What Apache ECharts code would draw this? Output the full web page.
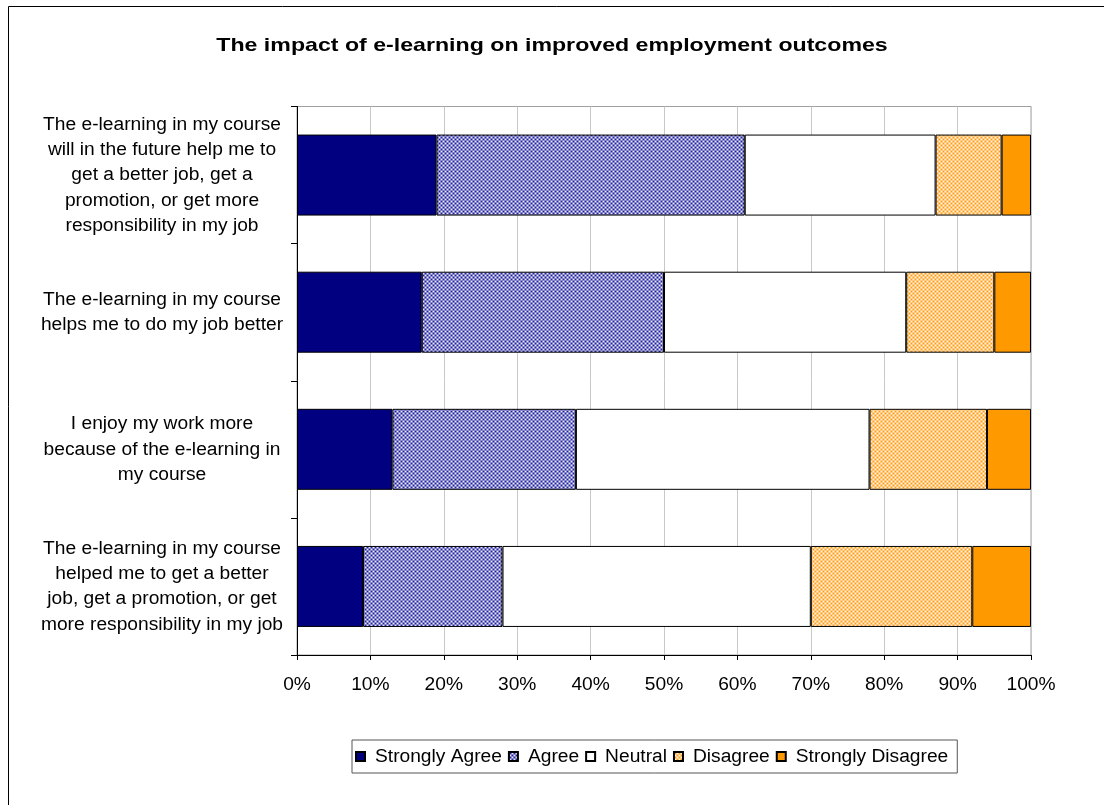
<!DOCTYPE html>
<html>
<head>
<meta charset="utf-8">
<script src="https://cdn.jsdelivr.net/npm/echarts@6/dist/echarts.min.js"></script>
<style>
  html, body { margin: 0; padding: 0; background: #fff; }
  #chart { width: 1104px; height: 805px; }
</style>
</head>
<body>
<div id="chart"></div>
<script>
// Survey statements (top to bottom)
const categories = [
  'The e-learning in my course\nwill in the future help me to\nget a better job, get a\npromotion, or get more\nresponsibility in my job',
  'The e-learning in my course\nhelps me to do my job better',
  'I enjoy my work more\nbecause of the e-learning in\nmy course',
  'The e-learning in my course\nhelped me to get a better\njob, get a promotion, or get\nmore responsibility in my job'
];

// Share of responses (%) per statement
const strongAgree    = [19, 17, 13, 9];
const agree          = [42, 33, 25, 19];
const neutral        = [26, 33, 40, 42];
const disagree       = [9, 12, 16, 22];
const strongDisagree = [4, 5, 6, 8];

const seriesNames = ['Strongly Agree', 'Agree', 'Neutral', 'Disagree', 'Strongly Disagree'];
const xTicks = [0, 10, 20, 30, 40, 50, 60, 70, 80, 90, 100];
const chartTitle = 'The impact of e-learning on improved employment outcomes';

// Small dotted tile used as a fill pattern
function dotPattern(base, dark, light) {
  const c = document.createElement('canvas');
  c.width = 4; c.height = 4;
  const g = c.getContext('2d');
  g.fillStyle = base; g.fillRect(0, 0, 4, 4);
  g.fillStyle = dark;
  g.fillRect(1, 1, 1, 1); g.fillRect(3, 3, 1, 1);
  g.fillStyle = light;
  g.fillRect(3, 1, 1, 1); g.fillRect(1, 3, 1, 1);
  return { image: c, repeat: 'repeat' };
}

const fills = [
  '#000080',
  dotPattern('#8686cc', '#20209a', '#eeeeff'),
  '#ffffff',
  dotPattern('#ffca80', '#ff9c10', '#fff6e8'),
  '#ff9900'
];
const values = [strongAgree, agree, neutral, disagree, strongDisagree];

const FONT = 'Liberation Sans, Arial, sans-serif';
const FS = 19.2;
const chart = echarts.init(document.getElementById('chart'), null, { renderer: 'canvas' });

chart.setOption({
  backgroundColor: '#ffffff',
  animation: false,
  textStyle: { fontFamily: FONT, color: '#000' },
  graphic: [
    {
      type: 'rect', silent: true, z: -1,
      shape: { x: 8.5, y: 6.5, width: 1110, height: 810 },
      style: { fill: null, stroke: '#000', lineWidth: 1 }
    },
    {
      // chart heading, drawn slightly widened
      type: 'text', silent: true,
      x: 552, y: 36, scaleX: 1.245,
      style: {
        text: chartTitle,
        fontFamily: FONT, fontSize: 18.6, fontWeight: 'bold',
        fill: '#000', textAlign: 'center', textVerticalAlign: 'top'
      }
    }
  ],
  legend: {
    data: seriesNames,
    left: 352, top: 740,
    orient: 'horizontal',
    itemWidth: 9, itemHeight: 9, itemGap: 6,
    padding: [7, 9, 7, 3],
    borderColor: '#555', borderWidth: 1,
    icon: 'rect',
    textStyle: { fontFamily: FONT, fontSize: FS, color: '#000', padding: [0, 0, 0, 5] }
  },
  grid: {
    left: 297, right: 73, top: 106.5, bottom: 150,
    show: true, borderColor: '#a0a0a0', borderWidth: 1, backgroundColor: 'transparent'
  },
  xAxis: {
    type: 'value', min: 0, max: 100, interval: 10,
    axisLine: { show: true, lineStyle: { color: '#000', width: 1 } },
    axisTick: { show: true, length: 5, lineStyle: { color: '#000' } },
    axisLabel: {
      margin: 20, fontFamily: FONT, fontSize: FS, color: '#000',
      formatter: v => xTicks.includes(v) ? v + '%' : ''
    },
    splitLine: { show: true, lineStyle: { color: '#c8c8c8', width: 1 } }
  },
  yAxis: {
    type: 'category', data: categories, inverse: true,
    axisLine: { show: true, lineStyle: { color: '#000', width: 1 } },
    axisTick: { show: true, length: 6, lineStyle: { color: '#000' } },
    axisLabel: {
      margin: 135, align: 'center', lineHeight: 25.3,
      fontFamily: FONT, fontSize: FS, color: '#000'
    },
    splitLine: { show: false }
  },
  series: seriesNames.map((name, i) => ({
    name: name,
    type: 'bar',
    stack: 'total',
    barWidth: 81,
    data: values[i],
    itemStyle: { color: fills[i], borderColor: '#000', borderWidth: 1 },
    emphasis: { disabled: true }
  }))
});
</script>
</body>
</html>
